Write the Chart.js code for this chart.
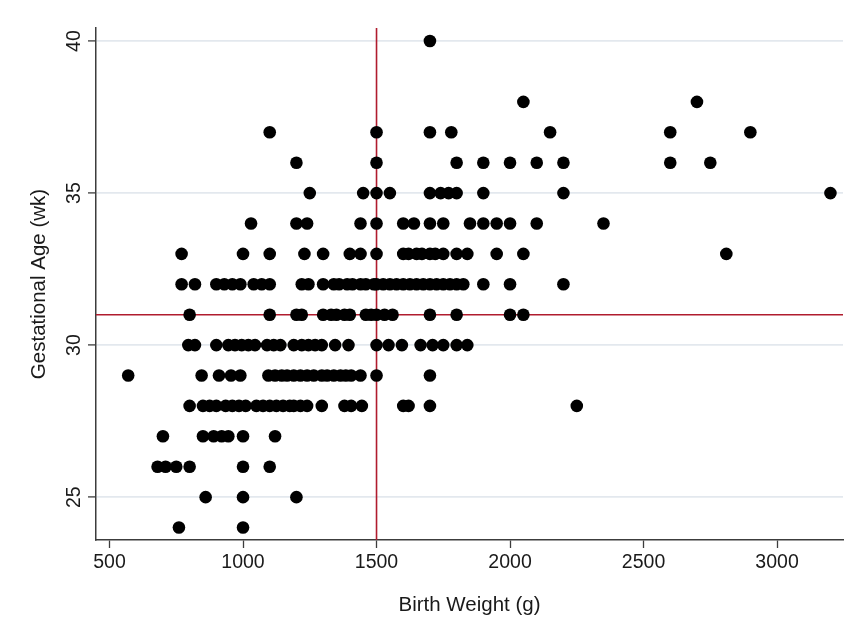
<!DOCTYPE html>
<html>
<head>
<meta charset="utf-8">
<script src="https://cdn.jsdelivr.net/npm/chart.js@4.4.1/dist/chart.umd.min.js"></script>
<style>
  html, body { margin: 0; padding: 0; background: #ffffff; }
  #wrap { width: 866px; height: 623px; position: relative; }
</style>
</head>
<body>
<div id="wrap"><canvas id="c" width="866" height="623"></canvas></div>
<script>
// ---- Data (birth weight in g, grouped by gestational age in weeks) ----
const weeks = [24, 25, 26, 27, 28, 29, 30, 31, 32, 33, 34, 35, 36, 37, 38, 40];
const bw24 = [760, 1000];
const bw25 = [860, 1000, 1200];
const bw26 = [680, 710, 750, 800, 1000, 1100];
const bw27 = [700, 850, 890, 920, 945, 1000, 1120];
const bw28 = [800, 850, 875, 900, 935, 960, 985, 1010, 1050, 1075, 1100, 1125, 1150, 1175, 1190, 1215, 1240, 1295, 1380, 1405, 1445, 1600, 1620, 1700, 2250];
const bw29 = [570, 845, 910, 955, 990, 1095, 1120, 1145, 1165, 1190, 1215, 1240, 1265, 1295, 1315, 1340, 1365, 1385, 1405, 1440, 1500, 1700];
const bw30 = [795, 820, 900, 945, 970, 995, 1020, 1045, 1090, 1115, 1140, 1190, 1220, 1245, 1270, 1295, 1345, 1395, 1500, 1545, 1595, 1665, 1710, 1750, 1800, 1840];
const bw31 = [800, 1100, 1200, 1220, 1300, 1330, 1350, 1380, 1400, 1460, 1480, 1500, 1530, 1560, 1700, 1800, 2000, 2050];
const bw32 = [770, 820, 900, 930, 960, 990, 1040, 1070, 1100, 1220, 1245, 1300, 1340, 1360, 1390, 1410, 1440, 1460, 1490, 1500, 1525, 1550, 1575, 1600, 1625, 1650, 1675, 1700, 1725, 1750, 1775, 1800, 1825, 1900, 2000, 2200];
const bw33 = [770, 1000, 1100, 1230, 1300, 1400, 1440, 1500, 1600, 1620, 1650, 1670, 1700, 1720, 1750, 1800, 1840, 1950, 2050, 2810];
const bw34 = [1030, 1200, 1240, 1440, 1500, 1600, 1640, 1700, 1750, 1850, 1900, 1950, 2000, 2100, 2350];
const bw35 = [1250, 1450, 1500, 1550, 1700, 1740, 1770, 1800, 1900, 2200, 3200];
const bw36 = [1200, 1500, 1800, 1900, 2000, 2100, 2200, 2600, 2750];
const bw37 = [1100, 1500, 1700, 1780, 2150, 2600, 2900];
const bw38 = [2050, 2700];
const bw40 = [1700];
const bwByWeek = [bw24, bw25, bw26, bw27, bw28, bw29, bw30, bw31, bw32, bw33, bw34, bw35, bw36, bw37, bw38, bw40];

const xTicks = [500, 1000, 1500, 2000, 2500, 3000];
const yTicks = [25, 30, 35, 40];
const refX = 1500;   // vertical reference line (g)
const refY = 31;     // horizontal reference line (wk)
const xLabel = 'Birth Weight (g)';
const yLabel = 'Gestational Age (wk)';

// ---- Build points ----
const points = [];
weeks.forEach((w, i) => bwByWeek[i].forEach(bw => points.push({ x: bw, y: w })));

const X_MIN = 449.4, X_MAX = 3247;
const Y_MIN = 23.59, Y_MAX = 40.43;

// ---- Font choice (narrow face if available) ----
function hasFont(name) {
  const ctx = document.createElement('canvas').getContext('2d');
  const s = 'Gestational Age 1000';
  ctx.font = '40px monospace';
  const a = ctx.measureText(s).width;
  ctx.font = '40px "' + name + '", monospace';
  return Math.abs(ctx.measureText(s).width - a) > 0.5;
}
let family, tickSize, titleSize;
if (hasFont('Liberation Sans Narrow')) {
  family = '"Liberation Sans Narrow", "Liberation Sans", Arial, sans-serif';
  tickSize = 23; titleSize = 24.5;
} else {
  family = '"Liberation Sans", Arial, sans-serif';
  tickSize = 19.5; titleSize = 20.5;
}

const axisColor = '#3c3c3c';
const gridColor = '#e3e8ee';
const refColor = '#b01c2e';

new Chart(document.getElementById('c'), {
  type: 'scatter',
  data: {
    datasets: [
      {
        type: 'scatter',
        data: points,
        backgroundColor: '#000000',
        borderWidth: 0,
        pointRadius: 6.3,
        pointHoverRadius: 6.3,
        order: 1
      },
      {
        type: 'line',
        data: [{ x: refX, y: Y_MIN }, { x: refX, y: Y_MAX }],
        borderColor: refColor,
        borderWidth: 1.6,
        pointRadius: 0,
        fill: false,
        order: 2
      },
      {
        type: 'line',
        data: [{ x: X_MIN, y: refY }, { x: X_MAX, y: refY }],
        borderColor: refColor,
        borderWidth: 1.6,
        pointRadius: 0,
        fill: false,
        order: 2
      }
    ]
  },
  options: {
    responsive: false,
    animation: false,
    events: [],
    layout: { padding: { top: 28, right: 23, left: 0, bottom: 0 } },
    plugins: { legend: { display: false }, tooltip: { enabled: false } },
    scales: {
      x: {
        type: 'linear',
        position: 'bottom',
        min: X_MIN,
        max: X_MAX,
        afterBuildTicks: s => { s.ticks = xTicks.map(v => ({ value: v })); },
        afterFit: s => { s.height = 623 - 540; },
        grid: { display: true, drawOnChartArea: false, drawTicks: true, tickLength: 8, tickColor: axisColor, tickWidth: 1.3 },
        border: { display: true, color: axisColor, width: 1.5 },
        ticks: { color: '#1a1a1a', font: { family: family, size: tickSize }, padding: 3, maxRotation: 0, minRotation: 0, callback: v => String(v) },
        title: { display: true, text: xLabel, color: '#1a1a1a', font: { family: family, size: titleSize }, padding: { top: 0, bottom: 5 } }
      },
      y: {
        type: 'linear',
        position: 'left',
        min: Y_MIN,
        max: Y_MAX,
        afterBuildTicks: s => { s.ticks = yTicks.map(v => ({ value: v })); },
        afterFit: s => { s.width = 96; },
        grid: { display: true, drawOnChartArea: true, color: gridColor, lineWidth: 1.8, drawTicks: true, tickLength: 8, tickColor: axisColor, tickWidth: 1.3 },
        border: { display: true, color: axisColor, width: 1.5 },
        ticks: { color: '#1a1a1a', font: { family: family, size: tickSize }, padding: 3, minRotation: 90, maxRotation: 90, crossAlign: 'center', callback: v => String(v) },
        title: { display: true, text: yLabel, color: '#1a1a1a', font: { family: family, size: titleSize }, padding: { top: 27, bottom: 0 } }
      }
    }
  }
});
</script>
</body>
</html>
